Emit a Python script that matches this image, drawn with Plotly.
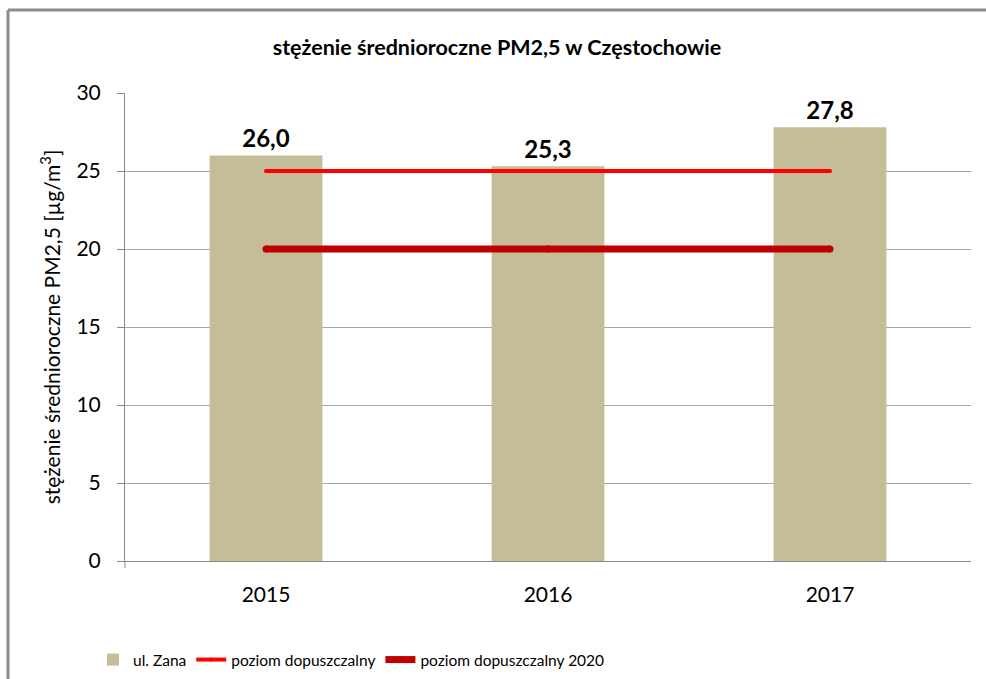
import plotly.graph_objects as go

years = ["2015", "2016", "2017"]
zana = [26.0, 25.3, 27.8]
limit = [25, 25, 25]
limit_2020 = [20, 20, 20]

FONT = "Lato, Open Sans, sans-serif"

fig = go.Figure()
fig.add_trace(go.Bar(
    x=years, y=zana, name="ul. Zana",
    marker=dict(color="#c4bd97", line=dict(width=0)),
    width=0.4,
    texttemplate="<b>%{y:.1f}</b>", textposition="outside",
    textfont=dict(family=FONT, size=24, color="black"),
    cliponaxis=False,
))
fig.add_trace(go.Scatter(
    x=years, y=limit, name="poziom dopuszczalny", mode="lines+markers",
    line=dict(color="#ff0000", width=4),
    marker=dict(color="#ff0000", size=4, line=dict(width=0)),
))
fig.add_trace(go.Scatter(
    x=years, y=limit_2020, name="poziom dopuszczalny 2020", mode="lines+markers",
    line=dict(color="#c00000", width=7),
    marker=dict(color="#c00000", size=7, line=dict(width=0)),
))

L, R, T, B = 125, 15, 93, 118
W, H = 986, 679
pw = W - L - R
ph = H - T - B

def px_x(p):
    return (p - L) / pw

def px_y(p):
    return (H - B - p) / ph

fig.update_layout(
    width=W, height=H,
    margin=dict(l=L, r=R, t=T, b=B, autoexpand=False),
    paper_bgcolor="white", plot_bgcolor="white",
    separators=", ",
    font=dict(family=FONT, size=16, color="black"),
    title=dict(text="<b>stężenie średnioroczne PM2,5 w Częstochowie</b>",
               x=px_x(497), xanchor="center", xref="paper",
               y=1 - 47 / H, yanchor="middle",
               font=dict(family=FONT, size=21.5, color="black")),
    showlegend=True,
    legend=dict(orientation="h", x=px_x(93), xref="paper", xanchor="left",
                y=px_y(660), yanchor="middle",
                font=dict(family=FONT, size=15.5, color="black"),
                itemwidth=30, traceorder="normal"),
    bargap=0.6,
    xaxis=dict(
        type="category", showgrid=False,
        showline=True, linecolor="#888888", linewidth=1,
        ticks="", tickfont=dict(family=FONT, size=21, color="black"),
        ticklabelstandoff=15,
    ),
    yaxis=dict(
        range=[0, 30], dtick=5, showgrid=True, gridcolor="#a6a6a6", gridwidth=1,
        showline=True, linecolor="#888888", linewidth=1,
        ticks="outside", ticklen=7, tickcolor="#888888",
        tickfont=dict(family=FONT, size=21, color="black"),
        ticklabelstandoff=12,
        zeroline=False,
        title=dict(text="stężenie średnioroczne PM2,5 [µg/m<sup>3</sup>]",
                   font=dict(family=FONT, size=21, color="black"), standoff=10),
    ),
    shapes=[
        dict(type="line", xref="paper", yref="paper",
             x0=px_x(8), x1=px_x(8), y0=px_y(10), y1=px_y(700),
             line=dict(color="#8c8c8c", width=3)),
        dict(type="line", xref="paper", yref="paper",
             x0=px_x(8), x1=px_x(990), y0=px_y(10), y1=px_y(10),
             line=dict(color="#8c8c8c", width=3)),
        dict(type="line", xref="paper", yref="paper",
             x0=0, x1=0, y0=0, y1=px_y(568),
             line=dict(color="#888888", width=1)),
    ],
)

fig.write_html("out.html", config={"displayModeBar": False},
               post_script="document.body.style.margin='0px';document.body.style.overflow='hidden';")
